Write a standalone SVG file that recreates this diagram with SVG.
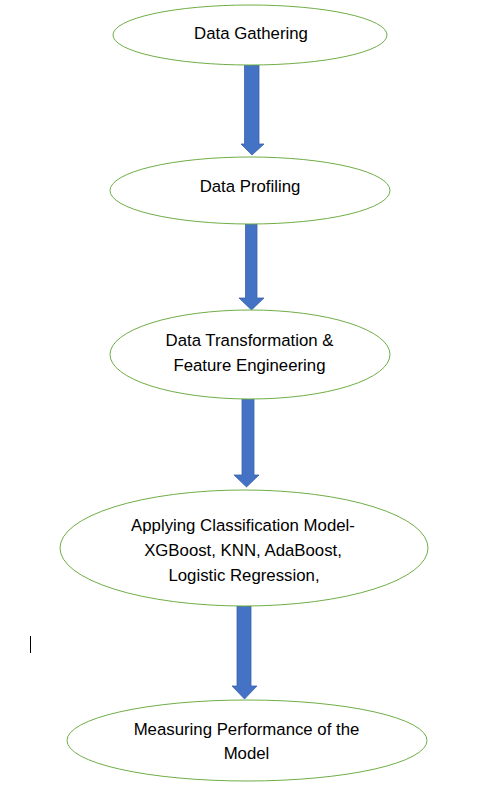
<svg xmlns="http://www.w3.org/2000/svg" width="479" height="794" viewBox="0 0 479 794">
<style>
.node ellipse{fill:#ffffff;stroke:#70AD47;stroke-width:1}
.node text{font-family:"Liberation Sans",Arial,sans-serif;font-size:16.8px;fill:#000000;text-anchor:middle}
.arrow{fill:#4472C4;stroke:#3A62AC;stroke-width:0.8}
</style>
<rect width="479" height="794" fill="#ffffff"/>
<g id="connectors">
<path class="arrow" d="M244.5,65 L259,65 L259,144 L264,144 L252,155 L241,144 L244.5,144 Z"/>
<path class="arrow" d="M245.5,224 L257,224 L257,298 L264,298 L251.5,310 L239,298 L245.5,298 Z"/>
<path class="arrow" d="M242,399 L254,399 L254,475 L259,475 L246.5,487 L234,475 L242,475 Z"/>
<path class="arrow" d="M237,606 L251,606 L251,686 L257,686 L244.5,699 L232,686 L237,686 Z"/>
</g>
<g id="node1" class="node">
<ellipse cx="250" cy="35" rx="137" ry="30"/>
<text x="251" y="39">Data Gathering</text>
</g>
<g id="node2" class="node">
<ellipse cx="250" cy="190.5" rx="140" ry="33.5"/>
<text x="250" y="192">Data Profiling</text>
</g>
<g id="node3" class="node">
<ellipse cx="250" cy="354.5" rx="140" ry="44.5"/>
<text x="249.5" y="346">Data Transformation &amp;</text>
<text x="249.5" y="371">Feature Engineering</text>
</g>
<g id="node4" class="node">
<ellipse cx="244" cy="548" rx="184" ry="58"/>
<text x="243" y="530.5">Applying Classification Model-</text>
<text x="243" y="555.5">XGBoost, KNN, AdaBoost,</text>
<text x="244" y="580.5">Logistic Regression,</text>
</g>
<g id="node5" class="node">
<ellipse cx="247" cy="740.5" rx="180" ry="40.5"/>
<text x="246.5" y="735">Measuring Performance of the</text>
<text x="246.5" y="759">Model</text>
</g>
<line x1="30.5" y1="636" x2="30.5" y2="653" stroke="#000000" stroke-width="1"/>
</svg>
